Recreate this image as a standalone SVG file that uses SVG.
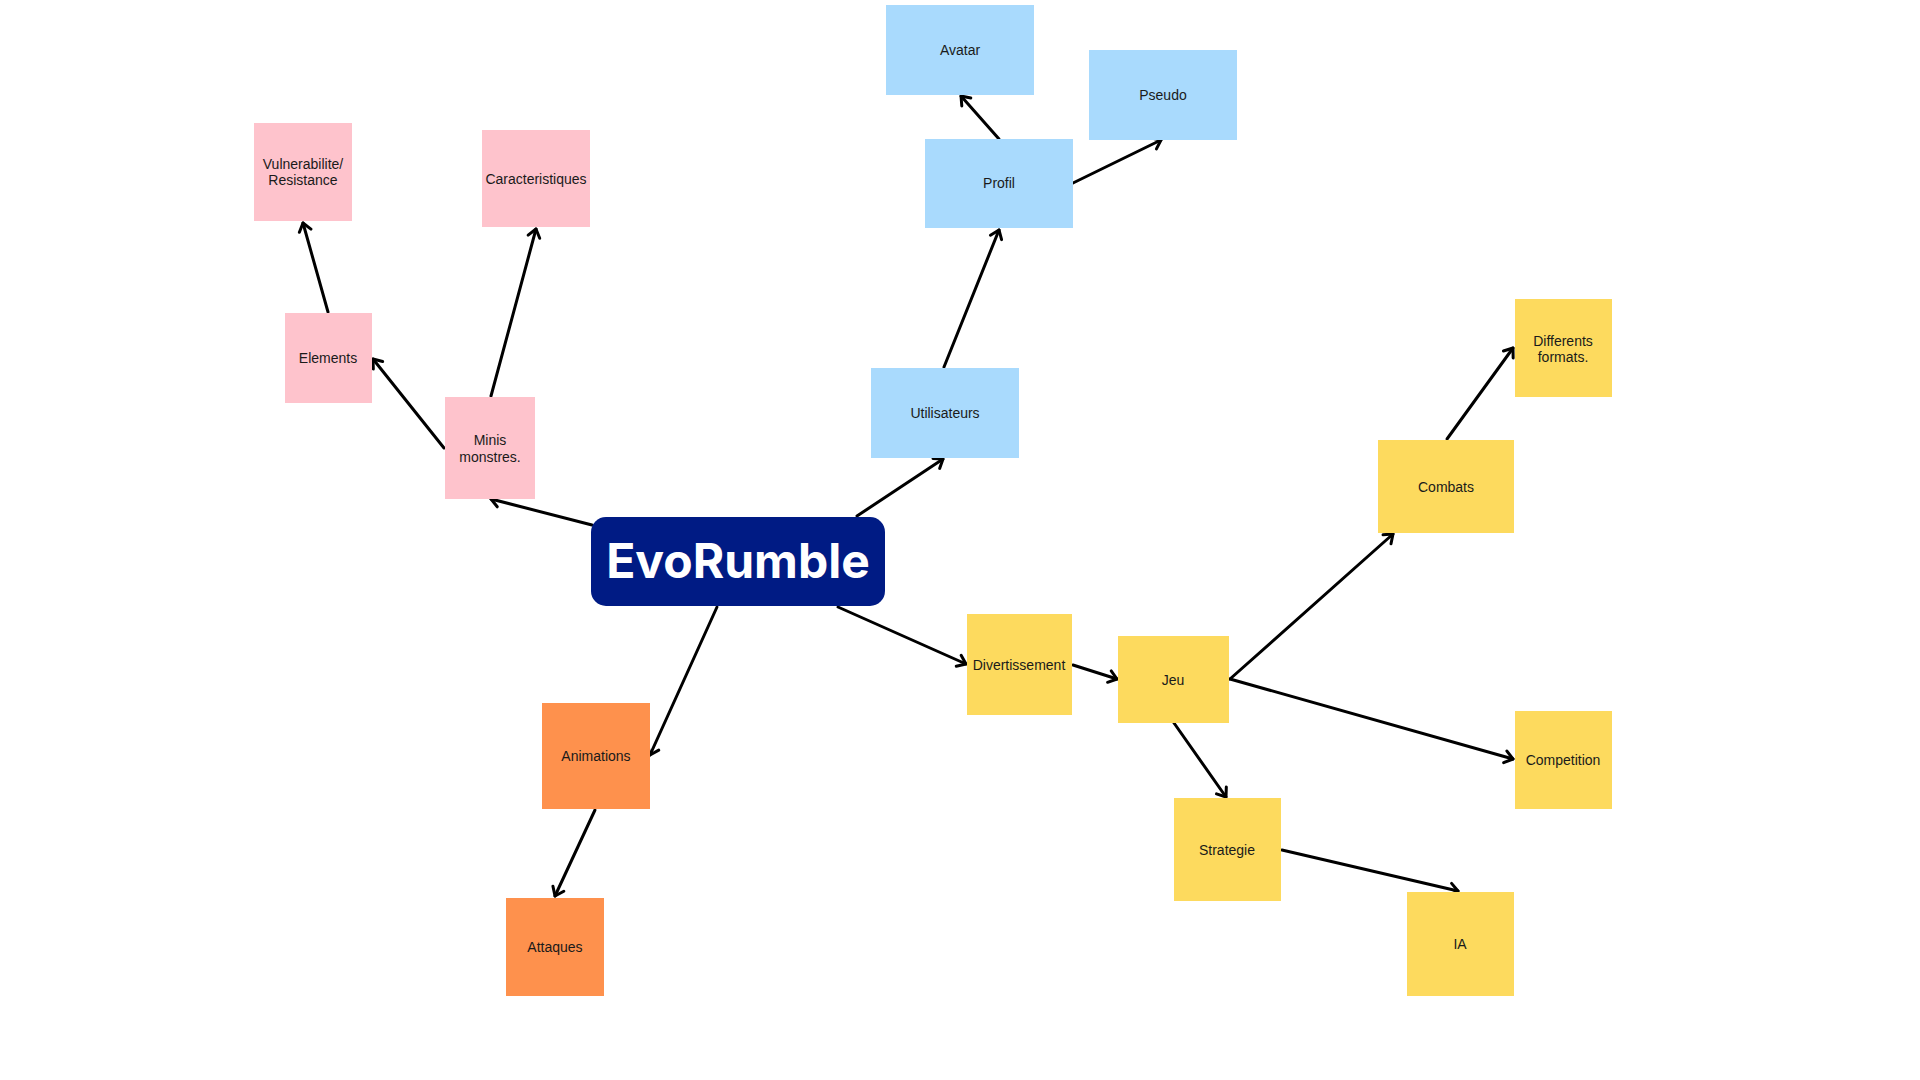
<svg xmlns="http://www.w3.org/2000/svg" width="1920" height="1080" viewBox="0 0 1920 1080">
<defs>
<style>
.blue{fill:#a9dafd}
.pink{fill:#fec3cc}
.yellow{fill:#fdda5e}
.orange{fill:#fe914d}
.lbl{font-family:"Liberation Sans","Noto Sans",sans-serif;font-size:14px;fill:#1a1a1a;text-anchor:middle}
.title{font-family:Inter,"Liberation Sans",sans-serif;font-weight:700;font-size:48px;fill:#ffffff;text-anchor:middle}
.conn line{stroke:#000;stroke-width:3;stroke-linecap:round;marker-end:url(#arr)}
</style>
<marker id="arr" markerUnits="userSpaceOnUse" markerWidth="16" markerHeight="16" refX="11" refY="8" orient="auto">
<path d="M3,2 L11,8 L3,14" fill="none" stroke="#000" stroke-width="3" stroke-linecap="round" stroke-linejoin="round"/>
</marker>
</defs>
<rect width="1920" height="1080" fill="#ffffff"/>

<g id="connectors" class="conn">
<line x1="999" y1="139" x2="961" y2="96"/>
<line x1="1073" y1="183" x2="1161" y2="140"/>
<line x1="944" y1="367" x2="999" y2="230"/>
<line x1="857" y1="516" x2="943" y2="459"/>
<line x1="328" y1="312" x2="303" y2="223"/>
<line x1="444" y1="448" x2="373" y2="359"/>
<line x1="491" y1="396" x2="536" y2="229"/>
<line x1="592" y1="525" x2="491" y2="499"/>
<line x1="717" y1="607" x2="650" y2="755"/>
<line x1="595" y1="810" x2="555" y2="896"/>
<line x1="838" y1="607" x2="966" y2="664"/>
<line x1="1073" y1="665" x2="1117" y2="679"/>
<line x1="1230" y1="679" x2="1393" y2="534"/>
<line x1="1230" y1="679" x2="1513" y2="759"/>
<line x1="1174" y1="723" x2="1226" y2="797"/>
<line x1="1282" y1="850" x2="1458" y2="891"/>
<line x1="1447" y1="439" x2="1513" y2="348"/>
</g>

<g id="evorumble">
<rect x="591" y="517" width="294" height="89" rx="15" fill="#001b84"/>
<text class="title" x="738" y="578">EvoRumble</text>
</g>

<g id="avatar"><rect class="blue" x="886" y="5" width="148" height="90"/><text class="lbl" x="960" y="55">Avatar</text></g>
<g id="pseudo"><rect class="blue" x="1089" y="50" width="148" height="90"/><text class="lbl" x="1163" y="100">Pseudo</text></g>
<g id="profil"><rect class="blue" x="925" y="139" width="148" height="89"/><text class="lbl" x="999" y="188">Profil</text></g>
<g id="utilisateurs"><rect class="blue" x="871" y="368" width="148" height="90"/><text class="lbl" x="945" y="418">Utilisateurs</text></g>

<g id="vulnerabilite"><rect class="pink" x="254" y="123" width="98" height="98"/><text class="lbl" x="303" y="169">Vulnerabilite/</text><text class="lbl" x="303" y="185">Resistance</text></g>
<g id="caracteristiques"><rect class="pink" x="482" y="130" width="108" height="97"/><text class="lbl" x="536" y="184">Caracteristiques</text></g>
<g id="elements"><rect class="pink" x="285" y="313" width="87" height="90"/><text class="lbl" x="328" y="363">Elements</text></g>
<g id="minis-monstres"><rect class="pink" x="445" y="397" width="90" height="102"/><text class="lbl" x="490" y="445">Minis</text><text class="lbl" x="490" y="462">monstres.</text></g>

<g id="animations"><rect class="orange" x="542" y="703" width="108" height="106"/><text class="lbl" x="596" y="761">Animations</text></g>
<g id="attaques"><rect class="orange" x="506" y="898" width="98" height="98"/><text class="lbl" x="555" y="952">Attaques</text></g>

<g id="divertissement"><rect class="yellow" x="967" y="614" width="105" height="101"/><text class="lbl" x="1019" y="670">Divertissement</text></g>
<g id="jeu"><rect class="yellow" x="1118" y="636" width="111" height="87"/><text class="lbl" x="1173" y="685">Jeu</text></g>
<g id="combats"><rect class="yellow" x="1378" y="440" width="136" height="93"/><text class="lbl" x="1446" y="492">Combats</text></g>
<g id="differents-formats"><rect class="yellow" x="1515" y="299" width="97" height="98"/><text class="lbl" x="1563" y="346">Differents</text><text class="lbl" x="1563" y="362">formats.</text></g>
<g id="competition"><rect class="yellow" x="1515" y="711" width="97" height="98"/><text class="lbl" x="1563" y="765">Competition</text></g>
<g id="strategie"><rect class="yellow" x="1174" y="798" width="107" height="103"/><text class="lbl" x="1227" y="855">Strategie</text></g>
<g id="ia"><rect class="yellow" x="1407" y="892" width="107" height="104"/><text class="lbl" x="1460" y="949">IA</text></g>
</svg>
